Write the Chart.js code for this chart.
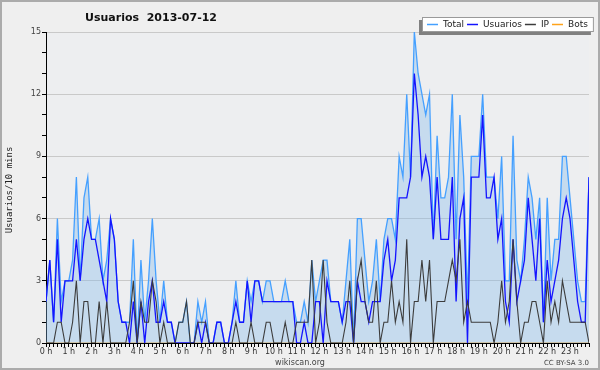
<!DOCTYPE html>
<html>
<head>
<meta charset="utf-8">
<script src="https://cdn.jsdelivr.net/npm/chart.js"></script>
<style>
  body { margin: 0; background: #efefef; }
  canvas { display: block; }
</style>
</head>
<body>
<canvas id="chart" width="600" height="370"></canvas>
<script>
// one value every 10 minutes, 2013-07-12
const hourLabels = ['0 h', '1 h', '2 h', '3 h', '4 h', '5 h', '6 h', '7 h', '8 h', '9 h', '10 h', '11 h',
  '12 h', '13 h', '14 h', '15 h', '16 h', '17 h', '18 h', '19 h', '20 h', '21 h', '22 h', '23 h'];

const total = [
  2, 4, 1, 6, 2, 3, 3, 4, 8, 3, 7, 8,
  5, 5, 6, 3, 4, 6, 5, 2, 1, 1, 1, 5,
  0, 4, 1, 3, 6, 3, 1, 3, 1, 1, 0, 1,
  1, 2, 0, 0, 2, 1, 2, 0, 0, 1, 1, 0,
  0, 1, 3, 1, 1, 3, 2, 3, 3, 2, 3, 3,
  2, 2, 2, 3, 2, 2, 1, 1, 2, 1, 4, 2,
  3, 4, 4, 2, 2, 2, 1, 3, 5, 0, 6, 6,
  4, 2, 3, 5, 2, 5, 6, 6, 5, 9, 8, 12,
  8, 15, 13, 12, 11, 12, 5, 10, 7, 7, 8, 12,
  5, 11, 8, 2, 9, 9, 9, 12, 8, 8, 8, 6,
  9, 3, 3, 10, 4, 3, 5, 8, 7, 5, 7, 1,
  7, 3, 5, 5, 9, 9, 7, 5, 3, 2, 2, 8
];

const usuarios = [
  2, 4, 1, 5, 1, 3, 3, 3, 5, 3, 5, 6,
  5, 5, 4, 3, 2, 6, 5, 2, 1, 1, 0, 2,
  0, 2, 0, 2, 3, 1, 1, 2, 1, 1, 0, 0,
  0, 0, 0, 0, 1, 0, 1, 0, 0, 1, 1, 0,
  0, 1, 2, 1, 1, 3, 1, 3, 3, 2, 2, 2,
  2, 2, 2, 2, 2, 2, 0, 0, 1, 0, 0, 2,
  2, 0, 3, 2, 2, 2, 1, 2, 2, 0, 3, 2,
  2, 1, 2, 2, 2, 4, 5, 3, 4, 7, 7, 7,
  8, 13, 11, 8, 9, 8, 5, 8, 5, 5, 5, 8,
  2, 6, 7, 0, 8, 8, 8, 11, 7, 7, 8, 5,
  6, 2, 1, 5, 2, 3, 4, 7, 5, 3, 6, 1,
  4, 2, 3, 4, 6, 7, 6, 4, 2, 1, 1, 8
];

const ip = [
  0, 0, 0, 1, 1, 0, 0, 1, 3, 0, 2, 2,
  0, 0, 2, 0, 2, 0, 0, 0, 0, 0, 1, 3,
  0, 2, 1, 1, 3, 2, 0, 1, 0, 0, 0, 1,
  1, 2, 0, 0, 1, 1, 1, 0, 0, 0, 0, 0,
  0, 0, 1, 0, 0, 0, 1, 0, 0, 0, 1, 1,
  0, 0, 0, 1, 0, 0, 1, 1, 1, 1, 4, 0,
  1, 4, 1, 0, 0, 0, 0, 1, 3, 0, 3, 4,
  2, 1, 1, 3, 0, 1, 1, 3, 1, 2, 1, 5,
  0, 2, 2, 4, 2, 4, 0, 2, 2, 2, 3, 4,
  3, 5, 1, 2, 1, 1, 1, 1, 1, 1, 0, 1,
  3, 1, 2, 5, 2, 0, 1, 1, 2, 2, 1, 0,
  3, 1, 2, 1, 3, 2, 1, 1, 1, 1, 1, 0
];

const bots = [
  0, 0, 0, 0, 0, 0, 0, 0, 0, 0, 0, 0,
  0, 0, 0, 0, 0, 0, 0, 0, 0, 0, 0, 0,
  0, 0, 0, 0, 0, 0, 0, 0, 0, 0, 0, 0,
  0, 0, 0, 0, 0, 0, 0, 0, 0, 0, 0, 0,
  0, 0, 0, 0, 0, 0, 0, 0, 0, 0, 0, 0,
  0, 0, 0, 0, 0, 0, 0, 0, 0, 0, 0, 0,
  0, 0, 0, 0, 0, 0, 0, 0, 0, 0, 0, 0,
  0, 0, 0, 0, 0, 0, 0, 0, 0, 0, 0, 0,
  0, 0, 0, 0, 0, 0, 0, 0, 0, 0, 0, 0,
  0, 0, 0, 0, 0, 0, 0, 0, 0, 0, 0, 0,
  0, 0, 0, 0, 0, 0, 0, 0, 0, 0, 0, 0,
  0, 0, 0, 0, 0, 0, 0, 0, 0, 0, 0, 0
];

const toPoints = (arr) => arr.map((v, i) => ({ x: i, y: v }));

const FONT = '"DejaVu Sans", Verdana, sans-serif';

// background, frame, title, legend and footer texts
const decor = {
  id: 'decor',
  beforeDraw(chart) {
    const { ctx, chartArea: a } = chart;
    ctx.save();
    ctx.fillStyle = '#efefef';
    ctx.fillRect(0, 0, 600, 370);
    ctx.fillStyle = '#edeef0';
    ctx.fillRect(a.left, a.top, a.right - a.left, a.bottom - a.top);
    ctx.strokeStyle = '#ababab';
    ctx.lineWidth = 2;
    ctx.strokeRect(1, 1, 598, 368);
    ctx.restore();
  },
  afterDraw(chart) {
    const ctx = chart.ctx;
    ctx.save();

    ctx.fillStyle = '#111';
    ctx.font = 'bold 11px ' + FONT;
    ctx.textAlign = 'center';
    ctx.textBaseline = 'alphabetic';
    ctx.fillText('Usuarios  2013-07-12', 151, 21);

    ctx.save();
    ctx.translate(12, 190);
    ctx.rotate(-Math.PI / 2);
    ctx.font = '9px "DejaVu Sans Mono", monospace';
    ctx.fillStyle = '#222';
    ctx.fillText('Usuarios/10 mins', 0, 0);
    ctx.restore();

    ctx.font = '8px ' + FONT;
    ctx.fillStyle = '#444';
    ctx.fillText('wikiscan.org', 300, 365);
    ctx.font = '7px ' + FONT;
    ctx.textAlign = 'right';
    ctx.fillText('CC BY-SA 3.0', 589, 365);

    // legend
    ctx.font = '9px ' + FONT;
    ctx.textAlign = 'left';
    ctx.textBaseline = 'middle';
    const sets = chart.data.datasets;
    let w = 5;
    sets.forEach(ds => { w += 11 + 5 + ctx.measureText(ds.label).width + 3; });
    w += 3;
    const bx = 422, by = 17, bh = 15;
    ctx.fillStyle = '#808080';
    ctx.fillRect(bx - 3, by + 3, w, bh);
    ctx.fillStyle = '#ffffff';
    ctx.fillRect(bx, by, w, bh);
    ctx.strokeStyle = '#9a9a9a';
    ctx.lineWidth = 1;
    ctx.strokeRect(bx + 0.5, by + 0.5, w - 1, bh - 1);
    let x = bx + 5;
    const y = by + 7.5;
    sets.forEach(ds => {
      ctx.strokeStyle = ds.borderColor;
      ctx.lineWidth = 1.5;
      ctx.beginPath();
      ctx.moveTo(x, y);
      ctx.lineTo(x + 11, y);
      ctx.stroke();
      x += 16;
      ctx.fillStyle = '#222';
      ctx.fillText(ds.label, x, y + 0.5);
      x += ctx.measureText(ds.label).width + 3;
    });
    ctx.restore();
  }
};

new Chart(document.getElementById('chart'), {
  type: 'line',
  data: {
    datasets: [
      {
        label: 'Total',
        data: toPoints(total),
        borderColor: '#45a0ff',
        backgroundColor: 'rgba(130,185,235,0.36)',
        borderWidth: 1.3,
        fill: 'origin',
        order: 3
      },
      {
        label: 'Usuarios',
        data: toPoints(usuarios),
        borderColor: '#1414ff',
        borderWidth: 1.3,
        fill: false,
        order: 2
      },
      {
        label: 'IP',
        data: toPoints(ip),
        borderColor: '#3c3c3c',
        borderWidth: 1.1,
        fill: false,
        order: 1
      },
      {
        label: 'Bots',
        data: toPoints(bots),
        borderColor: '#ffa31a',
        borderWidth: 1.2,
        fill: false,
        order: 4
      }
    ]
  },
  options: {
    responsive: false,
    animation: false,
    events: [],
    elements: {
      point: { radius: 0 },
      line: { tension: 0 }
    },
    layout: { padding: { top: 32, right: 11, left: 0, bottom: 0 } },
    plugins: {
      legend: { display: false },
      title: { display: false },
      tooltip: { enabled: false }
    },
    scales: {
      x: {
        type: 'linear',
        min: 0,
        max: 143,
        z: 1,
        afterFit: (s) => { s.height = 27; },
        border: { color: '#000', width: 1 },
        grid: { drawOnChartArea: false, tickLength: 4, tickColor: '#000', color: '#000' },
        ticks: {
          stepSize: 1,
          maxTicksLimit: 200,
          autoSkip: false,
          maxRotation: 0,
          padding: 0,
          color: '#333',
          font: { family: FONT, size: 8 },
          callback: (v) => (v % 6 === 0 ? hourLabels[v / 6] : '')
        }
      },
      y: {
        min: 0,
        max: 15,
        afterFit: (s) => { s.width = 46; },
        border: { color: '#000', width: 1 },
        grid: {
          tickLength: 4,
          tickColor: '#000',
          color: (c) => (c.tick && c.tick.value % 3 === 0 && c.tick.value > 0 ? '#c9c9c9' : 'rgba(0,0,0,0)')
        },
        ticks: {
          stepSize: 1,
          autoSkip: false,
          padding: 1,
          color: '#444',
          font: { family: FONT, size: 8 },
          callback: (v) => (v % 3 === 0 ? v : '')
        }
      }
    }
  },
  plugins: [decor]
});
</script>
</body>
</html>
